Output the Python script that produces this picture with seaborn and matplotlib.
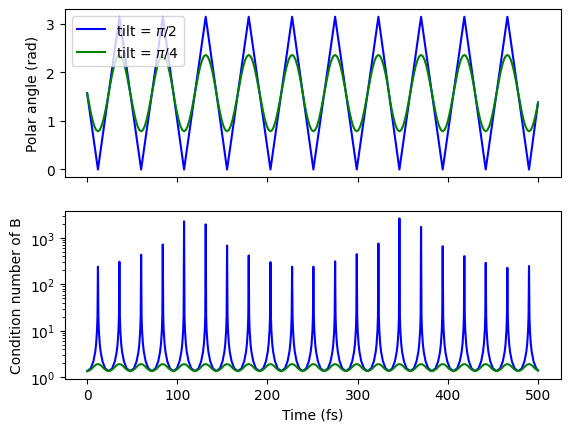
import numpy as np
import pandas as pd
import matplotlib
matplotlib.use("Agg")
import matplotlib.pyplot as plt
import seaborn as sns

# times (fs) where the tilt = pi/2 trajectory passes through a pole
pole_times = [12.0, 35.8, 59.9, 83.9, 107.5, 131.5, 155.2, 179.2, 203.3, 227.3, 250.9,
              275.0, 299.0, 323.0, 346.3, 370.3, 394.3, 418.3, 442.0, 466.0, 490.0]
# peak condition number of B at each of those poles (tilt = pi/2)
blue_peaks = [239, 306, 432, 720, 2270, 1955, 684, 418, 300, 239, 239,
              311, 446, 755, 2630, 1720, 661, 404, 291, 227, 247]

t_start, t_end = 0.0, 500.0
angle_start = 1.571
blue_angle_end, green_angle_end = 1.38, 1.37
cond_floor = 1.35
cond_end = 1.39

# tilt = pi/2 condition number on the flanks of a spike: offset (fs) -> value
blue_flank_dt = [0.5, 1.0, 2.0, 3.0, 5.0, 8.0]
blue_flank_cond = [20.5, 10.3, 5.2, 3.5, 2.2, 1.54]

# tilt = pi/4 around each turning point: offset (fs) -> |angle - pi/2| and condition number
green_dt = [0.0, 2.0, 4.0, 6.0, 8.0, 10.0]
green_dev = [0.785, 0.758, 0.679, 0.553, 0.389, 0.199]
green_cond = [1.91, 1.86, 1.74, 1.58, 1.46, 1.38]

half_pi = np.pi / 2

# --- assemble the curves from the values above ---
blue_ang_t, blue_ang = [t_start], [angle_start]
green_ang_t, green_ang = [t_start], [angle_start]
blue_c_t, blue_c = [t_start], [cond_floor]
green_c_t, green_c = [t_start], [cond_floor]

for k, tp in enumerate(pole_times):
    side = -1 if k % 2 == 0 else 1

    blue_ang_t.append(tp)
    blue_ang.append(0.0 if side < 0 else np.pi)

    # green angle / cond: left side, then right side
    for dt, dv, cv in zip(green_dt[::-1], green_dev[::-1], green_cond[::-1]):
        if dt > 0:
            green_ang_t.append(tp - dt)
            green_ang.append(half_pi + side * dv)
            green_c_t.append(tp - dt)
            green_c.append(cv)
    for dt, dv, cv in zip(green_dt, green_dev, green_cond):
        green_ang_t.append(tp + dt)
        green_ang.append(half_pi + side * dv)
        green_c_t.append(tp + dt)
        green_c.append(cv)

    # blue cond spike
    for dt, cv in zip(blue_flank_dt[::-1], blue_flank_cond[::-1]):
        blue_c_t.append(tp - dt)
        blue_c.append(cv)
    blue_c_t.append(tp)
    blue_c.append(blue_peaks[k])
    for dt, cv in zip(blue_flank_dt, blue_flank_cond):
        blue_c_t.append(tp + dt)
        blue_c.append(cv)

    # trough half way to the next pole
    if k + 1 < len(pole_times):
        mid = 0.5 * (tp + pole_times[k + 1])
        blue_c_t.append(mid)
        blue_c.append(cond_floor)
        green_c_t.append(mid)
        green_c.append(cond_floor)

blue_ang_t.append(t_end); blue_ang.append(blue_angle_end)
green_ang_t.append(t_end); green_ang.append(green_angle_end)
blue_c_t.append(t_end); blue_c.append(cond_end)
green_c_t.append(t_end); green_c.append(cond_end)

fig, (ax1, ax2) = plt.subplots(2, 1, figsize=(6.4, 4.8), sharex=True)

sns.lineplot(x=blue_ang_t, y=blue_ang, sort=False, estimator=None, color="blue",
             label=r"tilt = $\pi/2$", ax=ax1)
sns.lineplot(x=green_ang_t, y=green_ang, sort=False, estimator=None, color="green",
             label=r"tilt = $\pi/4$", ax=ax1)
ax1.set_ylabel("Polar angle (rad)")
ax1.legend(loc="upper left")

sns.lineplot(x=blue_c_t, y=blue_c, sort=False, estimator=None, color="blue", ax=ax2)
sns.lineplot(x=green_c_t, y=green_c, sort=False, estimator=None, color="green", ax=ax2)
ax2.set_yscale("log")
ax2.set_ylabel("Condition number of B")
ax2.set_xlabel("Time (fs)")

plt.savefig("out.png", bbox_inches="tight")
